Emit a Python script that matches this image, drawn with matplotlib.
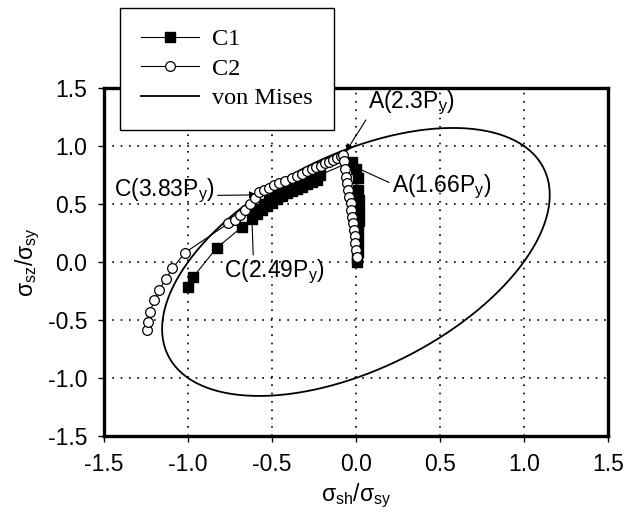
import numpy as np
import matplotlib
matplotlib.use('Agg')
from matplotlib import pyplot as plt

plt.rcParams['font.family'] = ['Liberation Sans', 'DejaVu Sans']
plt.rcParams['mathtext.fontset'] = 'custom'
plt.rcParams['mathtext.rm'] = 'Liberation Sans'
plt.rcParams['mathtext.it'] = 'Liberation Sans'
plt.rcParams['mathtext.bf'] = 'Liberation Sans:bold'

# C1 (filled squares)
c1_x = [-1.00, -0.97, -0.83, -0.68, -0.62, -0.61, -0.59, -0.58, -0.56, -0.55,
        -0.53, -0.52, -0.50, -0.49, -0.47, -0.46, -0.44, -0.43, -0.41, -0.40,
        -0.38, -0.37, -0.35, -0.34, -0.32, -0.31, -0.29, -0.28, -0.26, -0.25,
        -0.23, -0.215,
        -0.026, 0.000, 0.010, 0.014, 0.016, 0.016, 0.016, 0.014, 0.012, 0.010,
        0.008, 0.006]
c1_y = [-0.22, -0.13, 0.12, 0.30, 0.37, 0.42, 0.41, 0.46, 0.45, 0.50,
        0.48, 0.53, 0.51, 0.56, 0.54, 0.59, 0.57, 0.62, 0.59, 0.64,
        0.61, 0.66, 0.63, 0.68, 0.65, 0.70, 0.67, 0.72, 0.69, 0.73,
        0.71, 0.75,
        0.865, 0.80, 0.72, 0.62, 0.53, 0.44, 0.35, 0.26, 0.17, 0.09,
        0.03, 0.00]

# C2 (open circles)
c2_x = [-1.246, -1.240, -1.226, -1.201, -1.173, -1.133, -1.093, -1.018,
        -0.76, -0.72, -0.69, -0.66, -0.63, -0.60, -0.575, -0.55, -0.52, -0.49,
        -0.46, -0.42, -0.38, -0.35, -0.32, -0.29, -0.26, -0.235, -0.21, -0.185,
        -0.16, -0.135, -0.11, -0.09, -0.075,
        -0.072, -0.066, -0.060, -0.053, -0.046, -0.039, -0.032, -0.027, -0.022,
        -0.017, -0.012, -0.008, -0.004, 0.000, 0.004]
c2_y = [-0.586, -0.515, -0.428, -0.328, -0.241, -0.149, -0.054, 0.080,
        0.333, 0.36, 0.405, 0.448, 0.50, 0.55, 0.60, 0.62, 0.64, 0.66,
        0.68, 0.70, 0.72, 0.74, 0.76, 0.78, 0.80, 0.815, 0.83, 0.85,
        0.865, 0.88, 0.895, 0.91, 0.92,
        0.87, 0.80, 0.735, 0.68, 0.62, 0.56, 0.506, 0.45, 0.391,
        0.333, 0.276, 0.22, 0.161, 0.10, 0.046]

ticks = [-1.5, -1.0, -0.5, 0.0, 0.5, 1.0, 1.5]

# von Mises: sh^2 - sh*sz + sz^2 = 1
t = np.linspace(0, 2 * np.pi, 400)
u = np.sqrt(2) * np.cos(t)
v = np.sqrt(2.0 / 3.0) * np.sin(t)
vm_x = (u - v) / np.sqrt(2)
vm_y = (u + v) / np.sqrt(2)

fig = plt.figure(figsize=(6.39, 5.2), dpi=100)
ax = fig.add_axes([0.163, 0.1615, 0.788, 0.6695])

ax.plot(c1_x, c1_y, '-', color='black', lw=0.8, marker='s', ms=6.5,
        mfc='black', mec='black', label='C1', zorder=3)
ax.plot(c2_x, c2_y, '-', color='black', lw=0.8, marker='o', ms=7,
        mfc='white', mec='black', mew=0.9, label='C2', zorder=4)
ax.plot(vm_x, vm_y, '-', color='black', lw=1.3, label='von Mises', zorder=2)

ax.set_xlim(-1.5, 1.5)
ax.set_ylim(-1.5, 1.5)
ax.set_xticks(ticks)
ax.set_yticks(ticks)
ax.set_xticklabels(['%.1f' % v for v in ticks])
ax.set_yticklabels(['%.1f' % v for v in ticks])
ax.tick_params(labelsize=16.5, direction='out', length=4, width=1, pad=8)
ax.grid(True, color='black', linestyle=(0, (1, 4)), linewidth=1.2)
for s in ax.spines.values():
    s.set_linewidth(2.4)

ax.set_xlabel('σ$_{sh}$/σ$_{sy}$', fontsize=16.5, labelpad=4)
ax.set_ylabel('σ$_{sz}$/σ$_{sy}$', fontsize=16.5, labelpad=4)

arw = dict(arrowstyle='-|>', color='black', lw=0.8, mutation_scale=11,
           shrinkA=0, shrinkB=0)
ax.annotate('A(2.3P$_y$)', xy=(-0.06, 0.95), xytext=(0.07, 1.37),
            fontsize=16.5, ha='left', va='center',
            arrowprops=dict(arw, relpos=(0, 0)))
ax.annotate('A(1.66P$_y$)', xy=(-0.024, 0.83), xytext=(0.214, 0.65),
            fontsize=16.5, ha='left', va='center',
            arrowprops=dict(arw, relpos=(0, 0.6)))
ax.annotate('C(3.83P$_y$)', xy=(-0.59, 0.578), xytext=(-0.84, 0.61),
            fontsize=16.5, ha='right', va='center',
            arrowprops=dict(arw, relpos=(1, 0.35)))
ax.annotate('C(2.49P$_y$)', xy=(-0.62, 0.39), xytext=(-0.485, -0.086),
            fontsize=16.5, ha='center', va='center',
            arrowprops=dict(arw, relpos=(0.29, 1)))

leg = ax.legend(loc='upper left', bbox_to_anchor=(0.188, 0.985),
                bbox_transform=fig.transFigure, fancybox=False,
                edgecolor='black', framealpha=1, numpoints=1,
                prop={'family': 'Liberation Serif', 'size': 17.5},
                handlelength=2.4, handletextpad=0.55, borderpad=0.85,
                labelspacing=0.3, borderaxespad=0)
leg.get_frame().set_linewidth(1.0)
leg.set_zorder(10)

fig.savefig('out.png', dpi=100)
